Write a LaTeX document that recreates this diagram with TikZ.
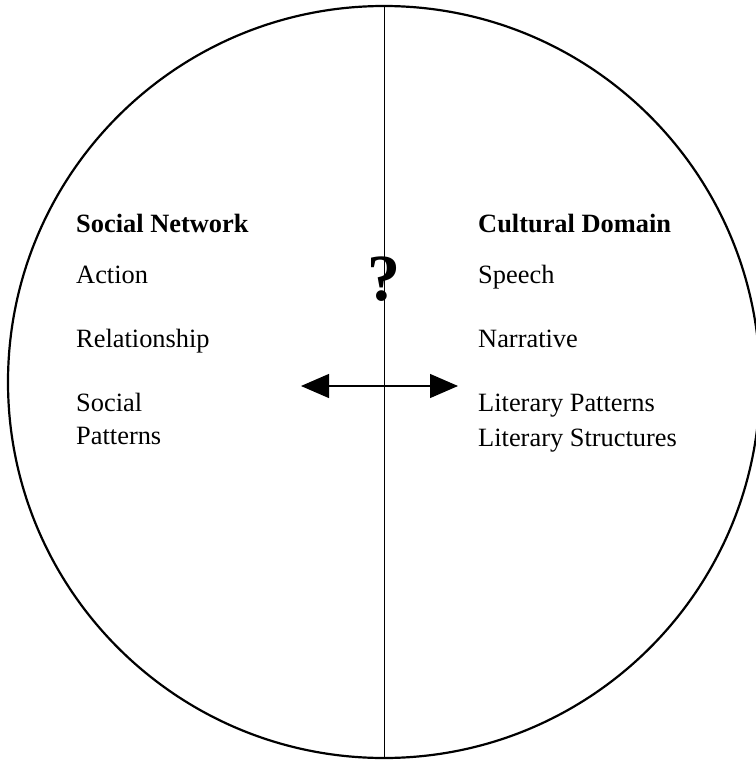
\documentclass[tikz,border=0pt]{standalone}
\usepackage{fontspec}
\setmainfont{Liberation Serif}
\usetikzlibrary{arrows.meta}

\begin{document}
\begin{tikzpicture}[x=1pt,y=-1pt,%
    texte/.style={anchor=base west,inner sep=0pt,align=left,%
      font=\fontsize{26.4}{33}\selectfont},%
    titre/.style={texte,font=\fontsize{26.4}{33}\selectfont\bfseries},%
    fleche/.style={line width=1.2pt,%
      {Triangle[length=28pt,width=24pt]}-{Triangle[length=28pt,width=24pt]}}%
    ]
    %
    % Définitions
    %
    \pgfmathsetmacro{\xc}{384};%
    \pgfmathsetmacro{\yc}{382};%
    \pgfmathsetmacro{\rc}{376};%
    \pgfmathsetmacro{\xg}{76};%
    \pgfmathsetmacro{\xd}{478};%
    \pgfmathsetmacro{\ya}{232};%
    \pgfmathsetmacro{\yb}{283};%
    \pgfmathsetmacro{\yd}{347};%
    \pgfmathsetmacro{\ye}{411};%
    \pgfmathsetmacro{\yf}{446};%
    \pgfmathsetmacro{\yfl}{386};%

    \useasboundingbox (0,0) rectangle (755,760);%
    \fill[white] (0,0) rectangle (755,760);%

    %
    % Coordonnées
    %
    \coordinate (centre) at (\xc,\yc);%
    \coordinate (haut) at (\xc,\yc-\rc);%
    \coordinate (bas) at (\xc,\yc+\rc);%
    \coordinate (fg) at (301,\yfl);%
    \coordinate (fd) at (458,\yfl);%

    %
    % Dessin
    %
    % Cercle et séparation
    \draw[line width=2.2pt] (centre) circle[radius=\rc pt];%
    \draw[line width=1pt] (haut) -- (bas);%

    % Réseau social
    \node[titre] (reseau) at (\xg,\ya) {Social Network};%
    \node[texte] (action) at (\xg,\yb) {Action};%
    \node[texte] (relation) at (\xg,\yd) {Relationship};%
    % (base = dernière ligne)
    \node[texte] (motifs) at (\xg,\ye+33) {Social\\Patterns};%

    % Domaine culturel
    \node[titre] (domaine) at (\xd,\ya) {Cultural Domain};%
    \node[texte] (parole) at (\xd,\yb) {Speech};%
    \node[texte] (recit) at (\xd,\yd) {Narrative};%
    \node[texte] (litpat) at (\xd,\ye) {Literary Patterns};%
    \node[texte] (litstr) at (\xd,\yf) {Literary Structures};%

    % Question et échange
    \node[anchor=base,inner sep=0pt,font=\fontsize{66}{66}\selectfont\bfseries]%
    (question) at (\xc,300) {?};%
    \draw[fleche] (fg) -- (fd);%

\end{tikzpicture}
\end{document}
